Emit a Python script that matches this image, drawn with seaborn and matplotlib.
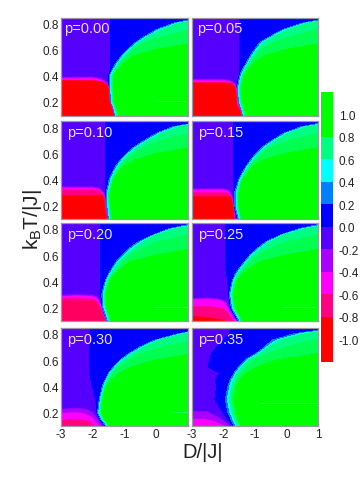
import numpy as np
import pandas as pd
import matplotlib
matplotlib.use("Agg")
import matplotlib.pyplot as plt
import seaborn as sns

temps = [0.85, 0.80, 0.75, 0.70, 0.65, 0.60, 0.55, 0.50, 0.45, 0.40, 0.30, 0.20, 0.15, 0.09]
p_values = [0.00, 0.05, 0.10, 0.15, 0.20, 0.25, 0.30, 0.35]

# D position of each contour at the temperatures above
blue_000 = [-1.43, -1.43, -1.43, -1.43, -1.43, -1.43, -1.43, -1.43, -1.42, -1.49, -1.49, -1.46, -1.38, -1.32]
outer_000 = [1.5, 0.55, 0.0, -0.35, -0.67, -0.9, -1.09, -1.25, -1.37, -1.47, -1.47, -1.44, -1.36, -1.3]
spring_000 = [2.0, 0.75, 0.17, -0.22, -0.55, -0.79, -1.0, -1.16, -1.29, -1.39, -1.39, -1.36, -1.28, -1.22]
mid_000 = [2.5, 2.0, 1.1, 0.2, -0.35, -0.68, -0.92, -1.09, -1.24, -1.36, -1.36, -1.33, -1.25, -1.19]
core_000 = [3.0, 2.7, 2.3, 1.9, 1.2, 0.0, -0.7, -1.0, -1.19, -1.34, -1.34, -1.31, -1.23, -1.17]

blue_005 = [-1.47, -1.47, -1.47, -1.47, -1.47, -1.47, -1.47, -1.47, -1.47, -1.49, -1.58, -1.54, -1.47, -1.41]
outer_005 = [1.6, 0.5, -0.12, -0.5, -0.85, -1.0, -1.14, -1.26, -1.38, -1.47, -1.56, -1.52, -1.45, -1.39]
spring_005 = [2.0, 0.7, 0.05, -0.38, -0.72, -0.9, -1.05, -1.17, -1.3, -1.39, -1.48, -1.44, -1.37, -1.31]
mid_005 = [2.5, 2.0, 1.0, 0.15, -0.42, -0.76, -0.96, -1.1, -1.25, -1.36, -1.45, -1.41, -1.34, -1.28]
core_005 = [3.0, 2.7, 2.3, 1.9, 1.2, 0.0, -0.7, -1.0, -1.19, -1.34, -1.43, -1.39, -1.32, -1.26]

blue_010 = [-1.58, -1.58, -1.58, -1.58, -1.58, -1.58, -1.58, -1.58, -1.58, -1.58, -1.59, -1.58, -1.56, -1.52]
outer_010 = [1.6, 0.5, 0.0, -0.35, -0.68, -0.92, -1.12, -1.27, -1.38, -1.47, -1.57, -1.56, -1.54, -1.5]
spring_010 = [2.0, 0.7, 0.15, -0.2, -0.55, -0.8, -1.02, -1.18, -1.3, -1.39, -1.49, -1.48, -1.46, -1.42]
mid_010 = [2.5, 2.0, 1.0, 0.2, -0.33, -0.67, -0.93, -1.1, -1.25, -1.36, -1.46, -1.45, -1.43, -1.39]
core_010 = [3.0, 2.7, 2.3, 1.9, 1.2, 0.05, -0.65, -1.0, -1.2, -1.34, -1.44, -1.43, -1.41, -1.37]

blue_015 = [-1.66, -1.66, -1.66, -1.66, -1.66, -1.66, -1.66, -1.66, -1.66, -1.66, -1.65, -1.65, -1.6, -1.54]
outer_015 = [1.5, 0.45, -0.1, -0.43, -0.75, -0.95, -1.12, -1.27, -1.39, -1.5, -1.63, -1.63, -1.58, -1.52]
spring_015 = [2.0, 0.65, 0.05, -0.3, -0.62, -0.85, -1.03, -1.19, -1.31, -1.42, -1.55, -1.55, -1.5, -1.44]
mid_015 = [2.5, 2.0, 1.0, 0.12, -0.42, -0.73, -0.95, -1.12, -1.26, -1.39, -1.52, -1.52, -1.47, -1.41]
core_015 = [3.0, 2.7, 2.3, 1.9, 1.2, 0.0, -0.7, -1.05, -1.22, -1.37, -1.5, -1.5, -1.45, -1.39]

blue_020 = [-1.75, -1.75, -1.75, -1.75, -1.75, -1.75, -1.75, -1.75, -1.75, -1.75, -1.74, -1.7, -1.63, -1.55]
outer_020 = [1.4, 0.4, -0.12, -0.56, -0.85, -1.05, -1.25, -1.38, -1.5, -1.6, -1.71, -1.68, -1.61, -1.53]
spring_020 = [2.0, 0.6, -0.03, -0.4, -0.7, -0.92, -1.15, -1.3, -1.43, -1.53, -1.63, -1.6, -1.53, -1.45]
mid_020 = [2.5, 2.0, 1.0, -0.03, -0.4, -0.8, -1.02, -1.18, -1.36, -1.5, -1.6, -1.57, -1.5, -1.42]
core_020 = [3.0, 2.7, 2.3, 1.9, 1.2, 0.0, -0.8, -1.1, -1.3, -1.47, -1.58, -1.55, -1.48, -1.4]

blue_025 = [-1.92, -1.92, -1.92, -1.92, -1.92, -1.92, -1.92, -1.92, -1.88, -1.85, -1.82, -1.76, -1.65, -1.5]
outer_025 = [1.4, 0.4, -0.2, -0.65, -0.92, -1.15, -1.32, -1.48, -1.62, -1.71, -1.8, -1.74, -1.62, -1.48]
spring_025 = [2.0, 0.6, -0.08, -0.5, -0.8, -1.04, -1.23, -1.4, -1.54, -1.64, -1.72, -1.66, -1.54, -1.4]
mid_025 = [2.5, 2.0, 1.0, 0.0, -0.5, -0.88, -1.12, -1.3, -1.47, -1.6, -1.69, -1.63, -1.51, -1.37]
core_025 = [3.0, 2.7, 2.3, 1.9, 1.2, 0.0, -0.8, -1.15, -1.4, -1.57, -1.67, -1.61, -1.49, -1.35]

blue_030 = [-2.07, -2.07, -2.08, -2.09, -2.09, -2.09, -2.09, -2.09, -2.05, -2.0, -1.9, -1.86, -1.76, -1.56]
outer_030 = [1.8, 0.7, -0.05, -0.5, -0.85, -1.13, -1.33, -1.5, -1.6, -1.69, -1.79, -1.84, -1.74, -1.54]
spring_030 = [2.2, 0.9, 0.1, -0.36, -0.72, -1.02, -1.24, -1.42, -1.53, -1.62, -1.72, -1.77, -1.67, -1.47]
mid_030 = [2.5, 2.0, 1.2, 0.15, -0.45, -0.85, -1.12, -1.33, -1.47, -1.59, -1.69, -1.74, -1.64, -1.44]
core_030 = [3.0, 2.7, 2.3, 1.9, 1.2, 0.0, -0.75, -1.15, -1.38, -1.56, -1.67, -1.72, -1.62, -1.42]

blue_035 = [-1.75, -1.8, -2.0, -2.2, -2.37, -2.42, -2.47, -2.1, -2.25, -2.2, -2.26, -2.0, -1.85, -1.65]
outer_035 = [1.7, 0.25, -0.45, -0.68, -0.95, -1.3, -1.5, -1.65, -1.77, -1.84, -1.93, -1.84, -1.75, -1.63]
spring_035 = [2.2, 0.6, -0.2, -0.55, -0.82, -1.18, -1.38, -1.54, -1.66, -1.73, -1.8, -1.72, -1.62, -1.5]
mid_035 = [2.5, 2.0, 0.8, 0.0, -0.55, -1.0, -1.22, -1.42, -1.56, -1.65, -1.72, -1.64, -1.56, -1.47]
core_035 = [3.0, 2.7, 2.3, 1.9, 1.0, -0.3, -0.9, -1.25, -1.46, -1.58, -1.66, -1.58, -1.52, -1.44]

violet_000 = [(-3, 0.39), (-2, 0.392), (-1.75, 0.38), (-1.55, 0.35), (-1.49, 0.31), (-1.48, 0.22), (-1.38, 0.15), (-1.32, 0.09)]
magenta_000 = [(-3, 0.38), (-2, 0.382), (-1.75, 0.37), (-1.56, 0.34), (-1.49, 0.31), (-1.48, 0.22), (-1.38, 0.15), (-1.32, 0.09)]
red_000 = [(-3, 0.365), (-2, 0.365), (-1.7, 0.355), (-1.55, 0.33), (-1.5, 0.3), (-1.49, 0.22), (-1.4, 0.15), (-1.33, 0.09)]

violet_005 = [(-3, 0.375), (-2, 0.375), (-1.78, 0.365), (-1.62, 0.34), (-1.58, 0.3), (-1.54, 0.2), (-1.47, 0.15), (-1.41, 0.09)]
magenta_005 = [(-3, 0.365), (-2, 0.365), (-1.78, 0.355), (-1.63, 0.33), (-1.58, 0.3), (-1.54, 0.2), (-1.47, 0.15), (-1.41, 0.09)]
red_005 = [(-3, 0.348), (-2, 0.348), (-1.75, 0.345), (-1.64, 0.32), (-1.6, 0.28), (-1.57, 0.18), (-1.48, 0.14), (-1.42, 0.09)]

violet_010 = [(-3, 0.345), (-2, 0.345), (-1.8, 0.335), (-1.65, 0.3), (-1.6, 0.25), (-1.58, 0.18), (-1.52, 0.09)]
magenta_010 = [(-3, 0.335), (-2, 0.335), (-1.8, 0.325), (-1.66, 0.29), (-1.61, 0.25), (-1.59, 0.18), (-1.53, 0.09)]
rose_010 = [(-3, 0.32), (-2, 0.32), (-1.8, 0.315), (-1.67, 0.28), (-1.62, 0.25), (-1.6, 0.18), (-1.54, 0.09)]
red_010 = [(-3, 0.277), (-1.68, 0.277), (-1.64, 0.22), (-1.61, 0.15), (-1.55, 0.09)]

violet_015 = [(-3, 0.33), (-2, 0.33), (-1.85, 0.32), (-1.72, 0.28), (-1.67, 0.2), (-1.62, 0.09)]
magenta_015 = [(-3, 0.32), (-2, 0.32), (-1.85, 0.31), (-1.73, 0.27), (-1.68, 0.2), (-1.63, 0.09)]
rose_015 = [(-3, 0.3), (-2, 0.3), (-1.85, 0.295), (-1.74, 0.26), (-1.69, 0.2), (-1.64, 0.09)]
red_015 = [(-3, 0.27), (-1.76, 0.27), (-1.7, 0.2), (-1.65, 0.09)]

violet_020 = [(-3, 0.295), (-2.5, 0.3), (-2, 0.295), (-1.85, 0.28), (-1.74, 0.22), (-1.66, 0.15), (-1.56, 0.09)]
magenta_020 = [(-3, 0.285), (-2.5, 0.29), (-2, 0.285), (-1.86, 0.27), (-1.75, 0.22), (-1.67, 0.15), (-1.57, 0.09)]
rose_020 = [(-3, 0.265), (-2.5, 0.27), (-2, 0.265), (-1.88, 0.25), (-1.76, 0.2), (-1.68, 0.15), (-1.58, 0.09)]
crimson_020 = [(-3, 0.25), (-2.5, 0.25), (-2, 0.245), (-1.9, 0.23), (-1.78, 0.19), (-1.7, 0.14), (-1.6, 0.09)]

violet_025 = [(-3, 0.27), (-2.5, 0.275), (-2.1, 0.265), (-1.95, 0.25), (-1.82, 0.2), (-1.66, 0.13), (-1.52, 0.09)]
magenta_025 = [(-3, 0.26), (-2.5, 0.265), (-2.1, 0.255), (-1.97, 0.24), (-1.84, 0.19), (-1.68, 0.12), (-1.56, 0.09)]
rose_025 = [(-3, 0.205), (-2.5, 0.21), (-2.15, 0.2), (-1.98, 0.19), (-1.87, 0.16), (-1.72, 0.11), (-1.62, 0.09)]
red_025 = [(-3, 0.136), (-2.5, 0.125), (-2, 0.105), (-1.9, 0.09)]

violet_030 = [(-3, 0.225), (-2.5, 0.235), (-2.2, 0.225), (-2.0, 0.2), (-1.85, 0.15), (-1.68, 0.09)]
magenta_030 = [(-3, 0.195), (-2.5, 0.2), (-2.25, 0.19), (-2.0, 0.16), (-1.9, 0.12), (-1.75, 0.09)]
rose_030 = [(-3, 0.14), (-2.6, 0.15), (-2.2, 0.14), (-2.0, 0.11), (-1.9, 0.09)]

violet_035 = [(-3, 0.21), (-2.5, 0.205), (-2.2, 0.17), (-1.95, 0.13), (-1.75, 0.09)]
magenta_035 = [(-3, 0.15), (-2.6, 0.15), (-2.25, 0.13), (-2.0, 0.1), (-1.9, 0.09)]

ordered_layers = [
    [("violet", violet_000), ("magenta", magenta_000), ("red", red_000)],
    [("violet", violet_005), ("magenta", magenta_005), ("red", red_005)],
    [("violet", violet_010), ("magenta", magenta_010), ("rose", rose_010), ("red", red_010)],
    [("violet", violet_015), ("magenta", magenta_015), ("rose", rose_015), ("red", red_015)],
    [("violet", violet_020), ("magenta", magenta_020), ("rose", rose_020), ("crimson", crimson_020)],
    [("violet", violet_025), ("magenta", magenta_025), ("rose", rose_025), ("red", red_025)],
    [("violet", violet_030), ("magenta", magenta_030), ("rose", rose_030)],
    [("violet", violet_035), ("magenta", magenta_035)],
]

# faint streaks inside the green core, (D start, D end, T)
streaks = [[(0.0, 0.95, 0.205)], [], [], [],
           [(-0.1, 1.0, 0.205)], [(-0.15, 0.9, 0.205)], [(0.5, 1.0, 0.205)], [(-0.8, 1.0, 0.27)]]

# colour bar
bar_levels = [1.1, 0.9, 0.7, 0.5, 0.3, 0.1, -0.1, -0.3, -0.5, -0.7, -0.9, -1.1]
bar_ticks = ["1.0", "0.8", "0.6", "0.4", "0.2", "0.0", "-0.2", "-0.4", "-0.6", "-0.8", "-1.0"]
bar_colors = ["#00ff00", "#00ff00", "#00ff80", "#00ffff", "#0080ff", "#0000ff",
              "#5500ff", "#aa00ff", "#ff00ff", "#ff0080", "#ff0000", "#ff0000"]
layer_colors = {"violet": "#aa00ff", "magenta": "#ff00ff", "rose": "#ff0080",
                "crimson": "#ff0060", "red": "#ff0000"}
dome_levels = [-0.2, 0.0, 0.2, 0.4, 0.6, 0.8, 1.0, 1.2]
dome_colors = ["#5500ff", "#0000ff", "#0080ff", "#00ffff", "#00ff80", "#00ff50", "#00ff00"]
dome_values = [-0.1, -0.01, 0.01, 0.2, 0.6, 0.8, 1.0, 1.1]

sns.set_style("white")
plt.rcParams["font.family"] = ["Liberation Sans", "DejaVu Sans"]
plt.rcParams["mathtext.default"] = "regular"
plt.rcParams["mathtext.fontset"] = "custom"
plt.rcParams["mathtext.rm"] = "Liberation Sans"

# tidy table, one row per temperature and panel
frames = []
curves = [(blue_000, outer_000, spring_000, mid_000, core_000),
          (blue_005, outer_005, spring_005, mid_005, core_005),
          (blue_010, outer_010, spring_010, mid_010, core_010),
          (blue_015, outer_015, spring_015, mid_015, core_015),
          (blue_020, outer_020, spring_020, mid_020, core_020),
          (blue_025, outer_025, spring_025, mid_025, core_025),
          (blue_030, outer_030, spring_030, mid_030, core_030),
          (blue_035, outer_035, spring_035, mid_035, core_035)]
for i, p in enumerate(p_values):
    blue, outer, spring, mid, core = curves[i]
    frames.append(pd.DataFrame({"p": p, "panel": i, "T": temps, "blue": blue, "outer": outer,
                                "spring": spring, "mid": mid, "core": core}))
df = pd.concat(frames, ignore_index=True)


def draw_panel(data, color=None, **kwargs):
    ax = plt.gca()
    panel = int(data["panel"].iloc[0])
    t = data["T"].to_numpy()
    n = len(t)
    x = np.column_stack([np.full(n, -3.5), data["blue"] - 0.005, data["blue"] + 0.005, data["outer"],
                         data["spring"], data["mid"], data["core"], np.full(n, 3.5)])
    y = np.column_stack([t] * 8)
    z = np.tile(dome_values, (n, 1))
    cs = ax.contourf(x, y, z, levels=dome_levels, colors=dome_colors)
    cs.set_edgecolor("face")
    cs.set_linewidth(0.3)
    for d0, d1, level in streaks[panel]:
        ax.plot([d0, d1], [level, level], color="#20ff50", lw=0.7, zorder=2)
    for name, outline in ordered_layers[panel]:
        pts = np.array(outline)
        xs = np.r_[pts[:, 0], -3]
        ts = np.r_[pts[:, 1], 0.09]
        ax.fill(xs, ts, color=layer_colors[name], lw=0.3, zorder=3)


g = sns.FacetGrid(df, col="panel", col_wrap=2, sharex=False, sharey=False, height=1.5, aspect=1.2)
g.map_dataframe(draw_panel)
g.set_titles("")
g.set_axis_labels("", "")
fig = g.figure
fig.set_size_inches(3.63, 4.81)
fig.set_dpi(100)

W, H = 363.0, 481.0
cols = [(61, 188), (191.7, 318)]
rows = [(18.5, 116.7), (122.3, 220.3), (224, 322.3), (329, 427.3)]
label_x = [3, 5.6, 6, 6, 6, 6, 6, 6]
for i, ax in enumerate(g.axes.flat):
    x0, x1 = cols[i % 2]
    y0, y1 = rows[i // 2]
    ax.set_position([x0 / W, 1 - y1 / H, (x1 - x0) / W, (y1 - y0) / H])
    ax.set_xlim(-3, 1)
    ax.set_ylim(0.095, 0.845)
    ax.set_xticks([-3, -2, -1, 0, 1])
    ax.set_yticks([0.2, 0.4, 0.6, 0.8])
    ax.set_xticklabels(["-3", "-2", "-1", "0", "1" if i % 2 else ""])
    ax.set_yticklabels(["0.2", "0.4", "0.6", "0.8"])
    ax.tick_params(length=0, labelsize=8.5, pad=1.5, colors="#222222",
                   labelbottom=i >= 6, labelleft=i % 2 == 0)
    for s in ax.spines.values():
        s.set_visible(True)
        s.set_color("#9a9aa6")
        s.set_linewidth(0.9)
        s.set_zorder(5)
    ax.text(label_x[i] / (x1 - x0), 0.89, "p=%.2f" % p_values[i], transform=ax.transAxes,
            color="#e8e0ff", fontsize=10.5, va="center", ha="left", zorder=6)

# colour bar as a one column heatmap
bar_ax = fig.add_axes([321.3 / W, 1 - 362.7 / H, 12 / W, 270 / H])
sns.heatmap(np.array(bar_levels).reshape(-1, 1), ax=bar_ax, cbar=False, vmin=-1.2, vmax=1.2,
            cmap=matplotlib.colors.ListedColormap(bar_colors[::-1]), xticklabels=False)
bar_ax.set_yticks(np.arange(1, 12))
bar_ax.set_yticklabels(bar_ticks, rotation=0)
bar_ax.yaxis.tick_right()
bar_ax.tick_params(length=0, labelsize=8.5, pad=4, colors="#222222")

fig.text(203 / W, 1 - 453 / H, "D/|J|", fontsize=14.5, ha="center", va="center", color="#222222")
fig.text(32 / W, 1 - 220 / H, "k$_{B}$T/|J|", fontsize=15, rotation=90, ha="center", va="center", color="#222222")

fig.savefig("out.png", dpi=100)
